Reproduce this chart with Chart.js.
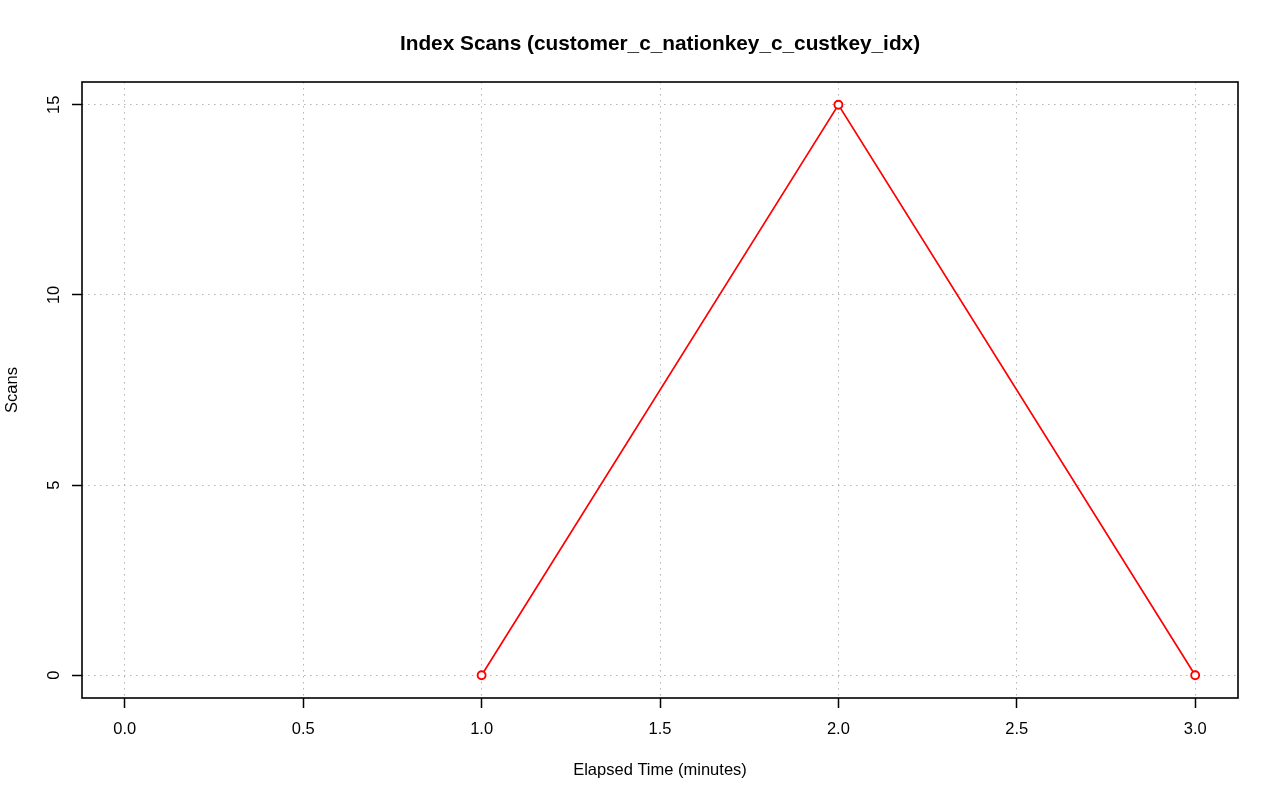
<!DOCTYPE html>
<html>
<head>
<meta charset="utf-8">
<title>Index Scans</title>
<script src="https://cdn.jsdelivr.net/npm/chart.js@4.4.1/dist/chart.umd.min.js"></script>
<style>
  html, body { margin: 0; padding: 0; background: #fff; }
  #wrap { width: 1280px; height: 801px; }
</style>
</head>
<body>
<div id="wrap"><canvas id="scanChart" width="1280" height="801"></canvas></div>
<script>
// Chart data
const chartTitle = 'Index Scans (customer_c_nationkey_c_custkey_idx)';
const xLabel = 'Elapsed Time (minutes)';
const yLabel = 'Scans';
const elapsedMinutes = [1, 2, 3];
const scanCounts = [0, 15, 0];
const xTicks = [0, 0.5, 1, 1.5, 2, 2.5, 3];
const yTicks = [0, 5, 10, 15];
const xRange = [-0.12, 3.12];
const yRange = [-0.6, 15.6];

const fontFamily = "'Liberation Sans', Arial, Helvetica, sans-serif";
const gridColor = '#b4b4b4';

// Box, rotated y labels and main title (R style)
const rFrame = {
    id: 'rFrame',
    afterDraw(chart) {
        const { ctx, chartArea: a, scales } = chart;
        ctx.save();
        ctx.strokeStyle = '#000';
        ctx.lineWidth = 1.6;
        ctx.strokeRect(a.left, a.top, a.right - a.left, a.bottom - a.top);

        ctx.fillStyle = '#000';
        ctx.textAlign = 'center';
        ctx.textBaseline = 'alphabetic';
        ctx.font = '16.5px ' + fontFamily;
        yTicks.forEach((v) => {
            const y = scales.y.getPixelForValue(v);
            ctx.save();
            ctx.translate(a.left - 23, y);
            ctx.rotate(-Math.PI / 2);
            ctx.fillText(String(v), 0, 0);
            ctx.restore();
        });

        ctx.font = 'bold 20.8px ' + fontFamily;
        ctx.fillText(chartTitle, (a.left + a.right) / 2, 50);
        ctx.restore();
    }
};

const ctx = document.getElementById('scanChart').getContext('2d');
const scanChart = new Chart(ctx, {
    type: 'line',
    data: {
        datasets: [{
            label: yLabel,
            data: elapsedMinutes.map((m, i) => ({ x: m, y: scanCounts[i] })),
            borderColor: '#ff0000',
            borderWidth: 1.7,
            pointRadius: 4,
            pointBorderWidth: 1.9,
            pointBorderColor: '#ff0000',
            pointBackgroundColor: '#ffffff',
            tension: 0,
            fill: false
        }]
    },
    options: {
        responsive: false,
        devicePixelRatio: 1,
        animation: false,
        layout: { padding: { top: 82, right: 42, left: 0, bottom: 0 } },
        plugins: {
            legend: { display: false },
            title: { display: false },
            tooltip: { enabled: false }
        },
        scales: {
            x: {
                type: 'linear',
                min: xRange[0],
                max: xRange[1],
                afterBuildTicks: (scale) => { scale.ticks = xTicks.map((value) => ({ value })); },
                afterFit: (scale) => { scale.height = 103; },
                ticks: {
                    autoSkip: false,
                    maxRotation: 0,
                    padding: 12,
                    color: '#000',
                    font: { family: fontFamily, size: 16.5 },
                    callback: (v) => Number(v).toFixed(1)
                },
                grid: {
                    color: gridColor,
                    lineWidth: 1,
                    tickColor: '#000',
                    tickWidth: 1.5,
                    tickLength: 10
                },
                border: { display: false, dash: [1.5, 4.5] },
                title: {
                    display: true,
                    text: xLabel,
                    color: '#000',
                    font: { family: fontFamily, size: 16.5 },
                    padding: { top: 0, bottom: 21 }
                }
            },
            y: {
                type: 'linear',
                min: yRange[0],
                max: yRange[1],
                afterBuildTicks: (scale) => { scale.ticks = yTicks.map((value) => ({ value })); },
                afterFit: (scale) => { scale.width = 82; },
                ticks: { display: false },
                grid: {
                    color: gridColor,
                    lineWidth: 1,
                    tickColor: '#000',
                    tickWidth: 1.5,
                    tickLength: 10
                },
                border: { display: false, dash: [1.5, 4.5] },
                title: {
                    display: true,
                    text: yLabel,
                    color: '#000',
                    font: { family: fontFamily, size: 16.5 },
                    padding: { top: 3, bottom: 0 }
                }
            }
        }
    },
    plugins: [rFrame]
});
</script>
</body>
</html>
